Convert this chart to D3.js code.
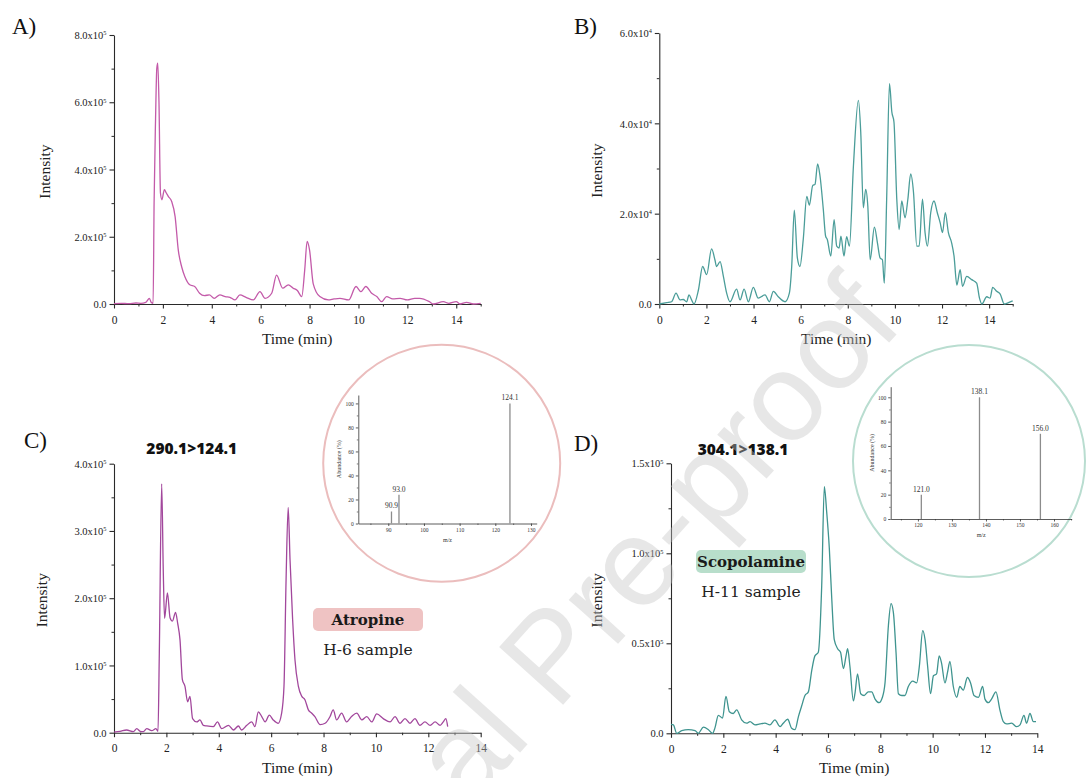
<!DOCTYPE html>
<html>
<head>
<meta charset="utf-8">
<script src="https://cdn.jsdelivr.net/npm/d3@7"></script>
<style>
  html, body { margin: 0; padding: 0; background: #fff; }
  svg { display: block; }
</style>
</head>
<body>
<svg id="fig" width="1086" height="778"></svg>
<script>
// ---- Chromatogram data: [time (min), intensity in axis units] ----
// Panel A, intensity x10^5
const chromA = [[0,0.01],[0.3,0.02],[0.6,0.01],[0.9,0.03],[1.1,0.02],[1.3,0.05],[1.45,0.17],[1.52,0.05],[1.6,0.02],[1.64,3.0],[1.7,5.5],[1.75,7.0],[1.79,7.16],[1.84,6.0],[1.9,3.3],[1.96,3.1],[2.06,3.4],[2.14,3.3],[2.22,3.2],[2.36,3.05],[2.5,2.6],[2.63,1.6],[2.77,1.1],[2.9,0.81],[3.1,0.57],[3.3,0.52],[3.5,0.32],[3.7,0.25],[3.9,0.27],[4.1,0.17],[4.33,0.27],[4.55,0.22],[4.74,0.2],[4.95,0.12],[5.15,0.27],[5.4,0.2],[5.7,0.12],[5.97,0.37],[6.18,0.17],[6.45,0.32],[6.65,0.86],[6.9,0.47],[7.13,0.57],[7.33,0.47],[7.5,0.4],[7.68,0.22],[7.8,1.0],[7.9,1.86],[8.0,1.6],[8.15,0.6],[8.42,0.22],[8.77,0.12],[9.0,0.15],[9.24,0.17],[9.6,0.12],[9.9,0.52],[10.1,0.37],[10.3,0.52],[10.54,0.32],[10.75,0.22],[10.95,0.07],[11.15,0.22],[11.4,0.15],[11.7,0.17],[12.0,0.12],[12.3,0.17],[12.5,0.17],[12.9,0.07],[13.06,0.0],[13.47,0.07],[13.7,0.02],[14.0,0.07],[14.15,0.0],[14.42,0.05],[14.7,0.0],[15.0,0.02]];

// Panel B, intensity x10^4
const chromB = [[0,0],[0.31,0.03],[0.52,0.05],[0.71,0.24],[0.88,0.09],[1.02,0.1],[1.16,0.05],[1.26,0.2],[1.37,0.09],[1.47,0],[1.66,0.31],[1.84,0.83],[2.01,0.65],[2.22,1.22],[2.36,0.98],[2.43,0.83],[2.58,0.94],[2.72,0.61],[2.86,0.24],[3.0,0.05],[3.28,0.33],[3.43,0.09],[3.6,0.33],[3.78,0.05],[3.99,0.37],[4.2,0.13],[4.49,0.2],[4.67,0.05],[4.84,0.28],[5.05,0.16],[5.34,0.05],[5.52,0.24],[5.62,0.83],[5.73,2.08],[5.86,1.02],[5.97,0.83],[6.11,1.43],[6.26,2.38],[6.37,2.19],[6.51,2.62],[6.61,2.65],[6.72,3.1],[6.82,2.84],[6.96,2.1],[7.06,1.5],[7.13,1.43],[7.28,1.06],[7.42,1.87],[7.53,1.28],[7.63,1.24],[7.71,1.5],[7.84,1.06],[7.95,1.49],[8.07,1.28],[8.24,3.06],[8.45,4.51],[8.55,3.81],[8.66,2.13],[8.76,2.54],[8.85,2.17],[8.95,0.98],[9.13,1.7],[9.26,1.35],[9.37,1.02],[9.47,0.98],[9.55,0.46],[9.65,2.32],[9.77,4.88],[9.87,4.25],[9.96,4.03],[10.08,2.32],[10.18,1.65],[10.29,2.28],[10.43,1.91],[10.55,2.32],[10.67,2.88],[10.79,2.47],[10.93,1.28],[11.03,1.28],[11.17,2.32],[11.28,1.58],[11.38,1.28],[11.52,2.02],[11.66,2.28],[11.8,2.02],[11.92,1.8],[12.02,1.58],[12.14,2.02],[12.27,1.58],[12.41,1.35],[12.51,1.06],[12.63,0.42],[12.77,0.76],[12.87,0.39],[13.05,0.61],[13.26,0.54],[13.47,0.46],[13.59,0.13],[13.69,0],[13.9,0.16],[14.04,0.13],[14.15,0.37],[14.32,0.28],[14.47,0.22],[14.64,0],[14.82,0.03],[15.0,0.07]];

// Panel C (atropine, 290.1>124.1), intensity x10^5
const chromC = [[0,0.01],[0.23,0.02],[0.48,0.04],[0.74,0.015],[0.87,0.06],[1.0,0.02],[1.12,0.015],[1.25,0.06],[1.44,0.03],[1.6,0.06],[1.68,0.02],[1.73,1.18],[1.82,3.7],[1.88,2.43],[1.93,1.7],[2.04,2.08],[2.14,1.71],[2.23,1.66],[2.35,1.79],[2.43,1.63],[2.52,1.38],[2.61,0.79],[2.71,0.69],[2.81,0.46],[2.9,0.54],[3.0,0.21],[3.16,0.16],[3.28,0.19],[3.41,0.11],[3.54,0.1],[3.79,0.09],[3.95,0.16],[4.11,0.06],[4.37,0.11],[4.56,0.04],[4.75,0.1],[4.87,0.04],[5.07,0.11],[5.26,0.16],[5.38,0.09],[5.51,0.31],[5.64,0.24],[5.77,0.16],[5.93,0.26],[6.08,0.19],[6.27,0.14],[6.4,0.29],[6.49,0.69],[6.57,2.28],[6.65,3.35],[6.72,2.58],[6.82,1.68],[6.91,1.08],[7.04,0.69],[7.17,0.54],[7.29,0.49],[7.42,0.34],[7.55,0.29],[7.67,0.24],[7.87,0.12],[8.06,0.14],[8.25,0.24],[8.37,0.34],[8.5,0.19],[8.69,0.29],[8.88,0.16],[9.07,0.24],[9.27,0.29],[9.46,0.19],[9.65,0.24],[9.84,0.16],[10.03,0.28],[10.28,0.21],[10.54,0.16],[10.73,0.24],[10.92,0.14],[11.11,0.21],[11.3,0.14],[11.49,0.21],[11.68,0.11],[11.87,0.16],[12.07,0.11],[12.26,0.16],[12.45,0.11],[12.57,0.16],[12.67,0.21],[12.74,0.09]];

// Panel D (scopolamine, 304.1>138.1), intensity x10^5
const chromD = [[0,0.05],[0.09,0.047],[0.22,0.0],[0.41,0.015],[0.66,0.02],[0.92,0.015],[1.04,0.0],[1.24,0.034],[1.43,0.02],[1.59,0.0],[1.68,0.03],[1.81,0.1],[1.97,0.085],[2.1,0.205],[2.23,0.12],[2.38,0.11],[2.51,0.13],[2.7,0.075],[2.89,0.056],[3.02,0.065],[3.21,0.047],[3.4,0.052],[3.59,0.056],[3.78,0.047],[3.97,0.075],[4.17,0.037],[4.29,0.056],[4.46,0.078],[4.61,0.028],[4.74,0.02],[4.87,0.093],[4.99,0.15],[5.12,0.21],[5.25,0.23],[5.38,0.35],[5.5,0.43],[5.63,0.45],[5.76,0.82],[5.86,1.37],[5.95,1.23],[6.05,1.03],[6.14,0.76],[6.24,0.52],[6.37,0.47],[6.48,0.45],[6.59,0.36],[6.69,0.43],[6.75,0.47],[6.84,0.37],[6.97,0.18],[7.03,0.22],[7.13,0.33],[7.25,0.22],[7.38,0.21],[7.54,0.23],[7.67,0.23],[7.8,0.19],[7.95,0.17],[8.08,0.2],[8.18,0.28],[8.31,0.6],[8.41,0.72],[8.5,0.67],[8.6,0.45],[8.69,0.22],[8.82,0.21],[8.94,0.21],[9.07,0.26],[9.24,0.29],[9.39,0.28],[9.49,0.37],[9.62,0.57],[9.71,0.52],[9.81,0.37],[9.92,0.22],[10.03,0.32],[10.15,0.33],[10.25,0.43],[10.34,0.39],[10.47,0.28],[10.57,0.34],[10.66,0.4],[10.79,0.26],[10.92,0.2],[11.04,0.26],[11.17,0.24],[11.33,0.31],[11.45,0.28],[11.58,0.21],[11.75,0.2],[11.91,0.26],[12.0,0.19],[12.13,0.17],[12.25,0.19],[12.42,0.23],[12.57,0.13],[12.7,0.065],[12.83,0.052],[13.02,0.056],[13.21,0.037],[13.34,0.047],[13.49,0.1],[13.59,0.056],[13.72,0.11],[13.85,0.065],[13.95,0.065]];

// ---- Product-ion spectra: [m/z, abundance %] ----
const spectrumAtropine = [[90.9,10],[93.0,24],[124.1,100]];
const spectrumScopolamine = [[121.0,20],[138.1,100],[156.0,70]];

// ---- Axis ticks ----
const timeTicks = [0,2,4,6,8,10,12,14];
const timeMinor15 = [1,3,5,7,9,11,13,15];
const timeMinor14 = [1,3,5,7,9,11,13];
const yTicksA = [0,2,4,6,8],   yMinorA = [1,3,5,7];        // x10^5
const yTicksB = [0,2,4,6],     yMinorB = [1,3,5];          // x10^4
const yTicksC = [0,1,2,3,4],   yMinorC = [0.5,1.5,2.5,3.5];// x10^5
const yTicksD = [0,0.5,1.0,1.5], yMinorD = [0.25,0.75,1.25];// x10^5
const mzTicksC = [90,100,110,120,130], mzMinorC = [85,95,105,115,125];
const mzTicksD = [120,130,140,150,160], mzMinorD = [115,125,135,145,155,165];
const abundTicks = [0,20,40,60,80,100], abundMinor = [10,30,50,70,90];

// ---- Text ----
const panelLetters = ["A)","B)","C)","D)"];
const transitions = ["290.1>124.1","304.1>138.1"];
const compounds = ["Atropine","Scopolamine"];
const samples = ["H-6 sample","H-11 sample"];

const svg = d3.select("#fig");
const SERIF = "'Liberation Serif', 'Times New Roman', serif";
const AXIS_COLOR = "#2a2a2a";

function superLabel(sel, mant, exp) {
  sel.text(null);
  sel.append("tspan").text(mant);
  if (exp !== null) {
    sel.append("tspan").attr("dy", "-0.6em").attr("font-size", "0.6em").text(exp);
  }
}

function drawChrom(o) {
  const g = svg.append("g");
  const x = d3.scaleLinear().domain(o.xDomain).range([o.x0, o.x1]);
  const y = d3.scaleLinear().domain(o.yDomain).range([o.y0, o.y1]);

  // minor ticks
  const gxMinor = g.append("g").attr("transform", `translate(0,${o.y0})`)
    .call(d3.axisBottom(x).tickValues(o.xMinor).tickSize(2.5).tickFormat(""));
  const gyMinor = g.append("g").attr("transform", `translate(${o.x0},0)`)
    .call(d3.axisLeft(y).tickValues(o.yMinor).tickSize(2.5).tickFormat(""));
  [gxMinor, gyMinor].forEach(a => { a.select(".domain").remove(); a.selectAll("line").attr("stroke", AXIS_COLOR); });

  const gx = g.append("g").attr("transform", `translate(0,${o.y0})`)
    .call(d3.axisBottom(x).tickValues(timeTicks).tickSize(4.5).tickSizeOuter(0).tickPadding(7));
  const gy = g.append("g").attr("transform", `translate(${o.x0},0)`)
    .call(d3.axisLeft(y).tickValues(o.yTicks).tickSize(4.5).tickSizeOuter(0).tickPadding(3));
  [gx, gy].forEach(a => {
    a.select(".domain").attr("stroke", AXIS_COLOR).attr("stroke-width", 1.1);
    a.selectAll("line").attr("stroke", AXIS_COLOR).attr("stroke-width", 1.1);
    a.selectAll("text").attr("font-family", SERIF).attr("fill", "#222");
  });
  gx.selectAll("text").attr("font-size", 11.5);
  gy.selectAll("text").attr("font-size", 10.5).attr("dy", "0.35em")
    .each(function(d) {
      const s = d3.select(this);
      if (d === 0) superLabel(s, "0.0", null);
      else superLabel(s, d.toFixed(1) + "x10", o.exp);
    });

  // trace
  const line = d3.line().x(d => x(d[0])).y(d => y(d[1])).curve(d3.curveMonotoneX);
  g.append("path").datum(o.data).attr("d", line)
    .attr("fill", "none").attr("stroke", o.color).attr("stroke-width", 1.3)
    .attr("stroke-linejoin", "round");

  // axis titles
  g.append("text").attr("x", (o.x0 + x(14)) / 2 + o.titleShift).attr("y", o.y0 + 40)
    .attr("text-anchor", "middle").attr("font-family", SERIF).attr("font-size", 15.5)
    .attr("fill", "#222").text("Time (min)");
  g.append("text").attr("transform", `translate(${o.ylabX},${(o.y0 + o.y1) / 2 + 2}) rotate(-90)`)
    .attr("text-anchor", "middle").attr("font-family", SERIF).attr("font-size", 15.5)
    .attr("fill", "#222").text("Intensity");

  // panel letter
  g.append("text").attr("x", o.letterX).attr("y", o.letterY)
    .attr("font-family", SERIF).attr("font-size", 23).attr("fill", "#111").text(o.letter);
  return {x, y};
}

drawChrom({ data: chromA, xDomain: [0,15], yDomain: [0,8], x0: 114, x1: 480.7, y0: 304, y1: 35,
  yTicks: yTicksA, yMinor: yMinorA, xMinor: timeMinor15, exp: "5", color: "#c35aa9",
  ylabX: 50, titleShift: 12, letter: panelLetters[0], letterX: 12, letterY: 34 });
drawChrom({ data: chromB, xDomain: [0,15], yDomain: [0,6], x0: 659.3, x1: 1012.7, y0: 304, y1: 33,
  yTicks: yTicksB, yMinor: yMinorB, xMinor: timeMinor15, exp: "4", color: "#4b9d99",
  ylabX: 602, titleShift: 12, letter: panelLetters[1], letterX: 574, letterY: 34 });
drawChrom({ data: chromC, xDomain: [0,14], yDomain: [0,4], x0: 114, x1: 480.7, y0: 732.7, y1: 463.7,
  yTicks: yTicksC, yMinor: yMinorC, xMinor: timeMinor14, exp: "5", color: "#a2479c",
  ylabX: 47, titleShift: 0, letter: panelLetters[2], letterX: 24, letterY: 448 });
drawChrom({ data: chromD, xDomain: [0,14], yDomain: [0,1.5], x0: 671, x1: 1037.3, y0: 733.3, y1: 463.3,
  yTicks: yTicksD, yMinor: yMinorD, xMinor: timeMinor14, exp: "5", color: "#3f948f",
  ylabX: 602, titleShift: 0, letter: panelLetters[3], letterX: 574, letterY: 451 });

// ---- transition titles, compound tags ----
const TITLE_FONT = "'Open Sans', 'DejaVu Sans', sans-serif";
svg.append("text").attr("x", 191.7).attr("y", 454).attr("text-anchor", "middle")
  .attr("font-family", TITLE_FONT).attr("font-weight", 800).attr("font-size", 15.5)
  .attr("fill", "#111").text(transitions[0]);
svg.append("text").attr("x", 743).attr("y", 455).attr("text-anchor", "middle")
  .attr("font-family", TITLE_FONT).attr("font-weight", 800).attr("font-size", 15.5)
  .attr("fill", "#111").text(transitions[1]);

function tag(cx, yTop, w, fill, name, sample) {
  svg.append("rect").attr("x", cx - w / 2).attr("y", yTop).attr("width", w).attr("height", 23)
    .attr("rx", 5).attr("fill", fill);
  svg.append("text").attr("x", cx).attr("y", yTop + 17).attr("text-anchor", "middle")
    .attr("font-family", "'DejaVu Serif', serif").attr("font-weight", "bold").attr("font-size", 15)
    .attr("fill", "#1a1a1a").text(name);
  svg.append("text").attr("x", cx).attr("y", yTop + 47).attr("text-anchor", "middle")
    .attr("font-family", "'DejaVu Serif', serif").attr("font-size", 15.5)
    .attr("fill", "#222").text(sample);
}
tag(368, 608, 110, "#efc3c3", compounds[0], samples[0]);
tag(751, 550, 110, "#b8decb", compounds[1], samples[1]);

// ---- circular spectrum insets ----
function drawInset(o) {
  const g = svg.append("g");
  g.append("circle").attr("cx", o.cx).attr("cy", o.cy).attr("r", o.r)
    .attr("fill", "none").attr("stroke", o.ring).attr("stroke-width", 2);
  const x = d3.scaleLinear().domain(o.xDomain).range([o.x0, o.x1]);
  const y = d3.scaleLinear().domain([0, o.yMax]).range([o.y0, o.y1]);

  const mx = g.append("g").attr("transform", `translate(0,${o.y0})`)
    .call(d3.axisBottom(x).tickValues(o.xMinor).tickSize(1.5).tickFormat(""));
  const my = g.append("g").attr("transform", `translate(${o.x0},0)`)
    .call(d3.axisLeft(y).tickValues(abundMinor).tickSize(1.5).tickFormat(""));
  [mx, my].forEach(a => { a.select(".domain").remove(); a.selectAll("line").attr("stroke", "#444").attr("stroke-width", 0.7); });

  const gx = g.append("g").attr("transform", `translate(0,${o.y0})`)
    .call(d3.axisBottom(x).tickValues(o.xTicks).tickSize(2.5).tickSizeOuter(0).tickPadding(2));
  const gy = g.append("g").attr("transform", `translate(${o.x0},0)`)
    .call(d3.axisLeft(y).tickValues(abundTicks).tickSize(2.5).tickSizeOuter(0).tickPadding(2));
  [gx, gy].forEach(a => {
    a.select(".domain").attr("stroke", "#333").attr("stroke-width", 0.8);
    a.selectAll("line").attr("stroke", "#333").attr("stroke-width", 0.8);
    a.selectAll("text").attr("font-family", SERIF).attr("font-size", 5.5).attr("fill", "#333");
  });

  g.selectAll(".peak").data(o.data).join("line")
    .attr("x1", d => x(d[0])).attr("x2", d => x(d[0]))
    .attr("y1", y(0)).attr("y2", d => y(d[1]))
    .attr("stroke", "#8c8c8c").attr("stroke-width", 1.3);
  g.selectAll(".peaklab").data(o.data).join("text")
    .attr("x", d => x(d[0])).attr("y", d => y(d[1]) - 3)
    .attr("text-anchor", "middle").attr("font-family", SERIF).attr("font-size", 7.5)
    .attr("fill", "#333").text(d => d[0].toFixed(1));

  g.append("text").attr("x", (o.x0 + o.x1) / 2).attr("y", o.y0 + 18).attr("text-anchor", "middle")
    .attr("font-family", SERIF).attr("font-size", 6).attr("fill", "#333").text("m/z");
  g.append("text").attr("transform", `translate(${o.x0 - 17},${(o.y0 + o.y1) / 2}) rotate(-90)`)
    .attr("text-anchor", "middle").attr("font-family", SERIF).attr("font-size", 6)
    .attr("fill", "#333").text("Abundance (%)");
}
drawInset({ data: spectrumAtropine, cx: 441.7, cy: 463.3, r: 118.5, ring: "#ebbdbd",
  xDomain: [81.6, 131.6], x0: 358.3, x1: 536.7, y0: 523.5, y1: 395, yMax: 107,
  xTicks: mzTicksC, xMinor: mzMinorC });
drawInset({ data: spectrumScopolamine, cx: 969, cy: 461, r: 116, ring: "#b9ddd0",
  xDomain: [112, 165.2], x0: 890.7, x1: 1071.7, y0: 519, y1: 386.7, yMax: 108.7,
  xTicks: mzTicksD, xMinor: mzMinorD });

// ---- manuscript-stage watermark ----
svg.append("text").attr("transform", "translate(905,325) rotate(-48)")
  .attr("text-anchor", "end").attr("font-family", "'Liberation Sans', Arial, sans-serif")
  .attr("font-size", 125).attr("fill", "#c4c4c4").attr("opacity", 0.4)
  .text("Journal Pre-proof");
</script>
</body>
</html>
